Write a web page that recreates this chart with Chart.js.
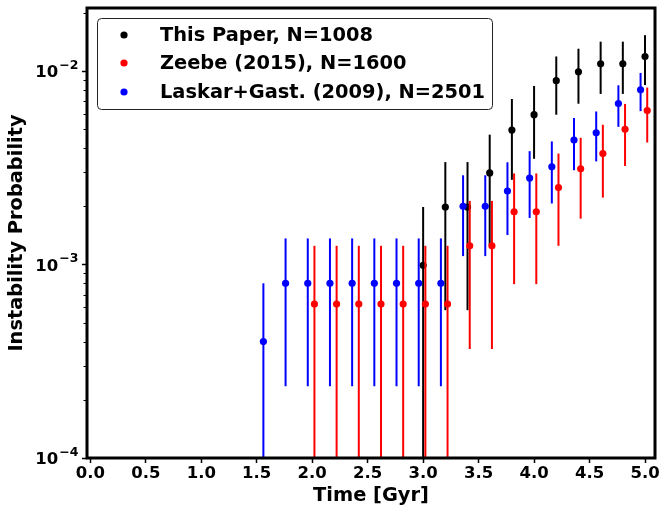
<!DOCTYPE html>
<html>
<head>
<meta charset="utf-8">
<script src="https://cdn.jsdelivr.net/npm/chart.js@4"></script>
<style>
  html, body { margin: 0; padding: 0; background: #fff; }
  #wrap { width: 663px; height: 508px; }
</style>
</head>
<body>
<div id="wrap"><canvas id="chart-instability" width="663" height="508"></canvas></div>
<script>
// --- data ---
const seriesLabels = ['This Paper, N=1008', 'Zeebe (2015), N=1600', 'Laskar+Gast. (2009), N=2501'];
const seriesColors = ['#000000', '#ff0000', '#0000ff'];

const paperTimes = [3.0, 3.2, 3.4, 3.6, 3.8, 4.0, 4.2, 4.4, 4.6, 4.8, 5.0];
const paperProb = [9.92e-4, 1.984e-3, 1.984e-3, 2.976e-3, 4.96e-3, 5.952e-3, 8.929e-3, 9.921e-3, 1.0913e-2, 1.0913e-2, 1.1905e-2];
const paperErr = [9.92e-4, 1.403e-3, 1.403e-3, 1.718e-3, 2.218e-3, 2.43e-3, 2.976e-3, 3.137e-3, 3.29e-3, 3.29e-3, 3.437e-3];

const zeebeTimes = [2.02, 2.22, 2.42, 2.62, 2.82, 3.02, 3.22, 3.42, 3.62, 3.82, 4.02, 4.22, 4.42, 4.62, 4.82, 5.02];
const zeebeProb = [6.25e-4, 6.25e-4, 6.25e-4, 6.25e-4, 6.25e-4, 6.25e-4, 6.25e-4, 1.25e-3, 1.25e-3, 1.875e-3, 1.875e-3, 2.5e-3, 3.125e-3, 3.75e-3, 5.0e-3, 6.25e-3];
const zeebeErr = [6.25e-4, 6.25e-4, 6.25e-4, 6.25e-4, 6.25e-4, 6.25e-4, 6.25e-4, 8.84e-4, 8.84e-4, 1.083e-3, 1.083e-3, 1.25e-3, 1.398e-3, 1.531e-3, 1.768e-3, 1.976e-3];

const laskarTimes = [1.56, 1.76, 1.96, 2.16, 2.36, 2.56, 2.76, 2.96, 3.16, 3.36, 3.56, 3.76, 3.96, 4.16, 4.36, 4.56, 4.76, 4.96];
const laskarProb = [4.0e-4, 8.0e-4, 8.0e-4, 8.0e-4, 8.0e-4, 8.0e-4, 8.0e-4, 8.0e-4, 8.0e-4, 2.0e-3, 2.0e-3, 2.4e-3, 2.8e-3, 3.2e-3, 4.4e-3, 4.8e-3, 6.8e-3, 8.0e-3];
const laskarErr = [4.0e-4, 5.65e-4, 5.65e-4, 5.65e-4, 5.65e-4, 5.65e-4, 5.65e-4, 5.65e-4, 5.65e-4, 8.94e-4, 8.94e-4, 9.79e-4, 1.058e-3, 1.131e-3, 1.326e-3, 1.385e-3, 1.649e-3, 1.788e-3];

const yTickValues = [1e-4, 1e-3, 1e-2];
const yTickBase = '10';
const yTickExponents = ['\u22124', '\u22123', '\u22122'];

const FONT = 'DejaVu Sans';

const toPoints = (xs, ys, errs) => xs.map((x, i) => ({ x, y: ys[i], err: errs[i] }));

// vertical error bars, drawn under each dataset's own markers
const errorBars = {
  id: 'errorBars',
  beforeDatasetDraw(chart, args) {
    const { ctx, chartArea, scales } = chart;
    const ds = chart.data.datasets[args.index];
    ctx.save();
    ctx.beginPath();
    ctx.rect(chartArea.left, chartArea.top, chartArea.right - chartArea.left, chartArea.bottom - chartArea.top);
    ctx.clip();
    ctx.strokeStyle = ds.backgroundColor;
    ctx.lineWidth = 2;
    ctx.lineCap = 'butt';
    ds.data.forEach((p) => {
      const px = scales.x.getPixelForValue(p.x);
      const lo = p.y - p.err;
      const yLo = lo > 0 ? scales.y.getPixelForValue(lo) : chartArea.bottom + 5;
      const yHi = scales.y.getPixelForValue(p.y + p.err);
      ctx.beginPath();
      ctx.moveTo(px, yLo);
      ctx.lineTo(px, yHi);
      ctx.stroke();
    });
    ctx.restore();
  },
};

// frame, minor log ticks, power-of-ten labels and boxed legend
const frameAndLegend = {
  id: 'frameAndLegend',
  afterDraw(chart) {
    const { ctx, chartArea, scales } = chart;
    const { left, right, top, bottom } = chartArea;
    ctx.save();

    ctx.strokeStyle = '#000';
    ctx.lineWidth = 1;
    yTickValues.forEach((d) => {
      for (let k = 2; k <= 9; k++) {
        const v = k * d;
        if (v > scales.y.max) break;
        const py = Math.round(scales.y.getPixelForValue(v)) + 0.5;
        ctx.beginPath();
        ctx.moveTo(left, py);
        ctx.lineTo(left - 3.5, py);
        ctx.stroke();
      }
    });

    // y tick labels with superscript exponents
    ctx.fillStyle = '#000';
    ctx.textBaseline = 'alphabetic';
    ctx.textAlign = 'left';
    yTickValues.forEach((v, i) => {
      const py = scales.y.getPixelForValue(v);
      ctx.font = `bold 12.5px "${FONT}"`;
      const expW = ctx.measureText(yTickExponents[i]).width;
      ctx.font = `bold 16.5px "${FONT}"`;
      const baseW = ctx.measureText(yTickBase).width;
      const xEnd = 78.5;
      const xBase = xEnd - expW - 1 - baseW;
      ctx.fillText(yTickBase, xBase, py + 6);
      ctx.font = `bold 12.5px "${FONT}"`;
      ctx.fillText(yTickExponents[i], xBase + baseW + 1, py - 2.5);
    });

    ctx.lineWidth = 3;
    ctx.strokeRect(left, top, right - left, bottom - top);

    const bx = 97, by = 18, bw = 395, bh = 91, r = 4;
    ctx.beginPath();
    ctx.roundRect(bx + 0.5, by + 0.5, bw, bh, r);
    ctx.fillStyle = 'rgba(255,255,255,0.85)';
    ctx.fill();
    ctx.lineWidth = 1;
    ctx.strokeStyle = '#222';
    ctx.stroke();

    const rows = [35, 63, 92];
    ctx.font = `bold 19.4px "${FONT}"`;
    ctx.textBaseline = 'middle';
    ctx.textAlign = 'left';
    seriesLabels.forEach((label, i) => {
      ctx.beginPath();
      ctx.arc(124, rows[i], 3.6, 0, Math.PI * 2);
      ctx.fillStyle = seriesColors[i];
      ctx.fill();
      ctx.fillStyle = '#000';
      ctx.fillText(label, 160, rows[i] + 1);
    });
    ctx.restore();
  },
};

const makeDataset = (i, xs, ys, errs, order) => ({
  label: seriesLabels[i],
  data: toPoints(xs, ys, errs),
  backgroundColor: seriesColors[i],
  borderColor: seriesColors[i],
  pointRadius: 3.6,
  pointBorderWidth: 0,
  pointHoverRadius: 3.6,
  showLine: false,
  order,
});

const ctx = document.getElementById('chart-instability').getContext('2d');
new Chart(ctx, {
  type: 'scatter',
  data: {
    datasets: [
      makeDataset(0, paperTimes, paperProb, paperErr, 3),
      makeDataset(1, zeebeTimes, zeebeProb, zeebeErr, 2),
      makeDataset(2, laskarTimes, laskarProb, laskarErr, 1),
    ],
  },
  options: {
    responsive: false,
    animation: false,
    devicePixelRatio: 1,
    layout: { padding: { left: 0, right: 8, top: 8, bottom: 0 } },
    plugins: {
      legend: { display: false },
      tooltip: { enabled: false },
    },
    scales: {
      x: {
        type: 'linear',
        min: -0.03,
        max: 5.09,
        afterFit: (scale) => {
          scale.height = 50;
          scale.paddingLeft = 0;
          scale.paddingRight = 0;
        },
        ticks: {
          stepSize: 0.5,
          includeBounds: false,
          autoSkip: false,
          maxRotation: 0,
          padding: 1,
          color: '#000',
          font: { family: FONT, size: 16.5, weight: 'bold' },
          callback: (value) => value.toFixed(1),
        },
        grid: { display: true, drawOnChartArea: false, drawTicks: true, tickLength: 5, tickWidth: 1.5, tickColor: '#000' },
        border: { display: false },
        title: {
          display: true,
          text: 'Time [Gyr]',
          color: '#000',
          padding: { top: 0, bottom: 0 },
          font: { family: FONT, size: 19.4, weight: 'bold', lineHeight: 1.2 },
        },
      },
      y: {
        type: 'logarithmic',
        min: 1e-4,
        max: 0.0212,
        afterFit: (scale) => {
          scale.width = 87;
          scale.paddingTop = 0;
          scale.paddingBottom = 0;
        },
        afterBuildTicks: (scale) => { scale.ticks = yTickValues.map((value) => ({ value, major: true })); },
        ticks: { display: false },
        grid: { display: true, drawOnChartArea: false, drawTicks: true, tickLength: 5, tickWidth: 1.5, tickColor: '#000' },
        border: { display: false },
        title: {
          display: true,
          text: 'Instability Probability',
          color: '#000',
          padding: { top: 5, bottom: 0 },
          font: { family: FONT, size: 19.4, weight: 'bold', lineHeight: 1.2 },
        },
      },
    },
  },
  plugins: [errorBars, frameAndLegend],
});
</script>
</body>
</html>
